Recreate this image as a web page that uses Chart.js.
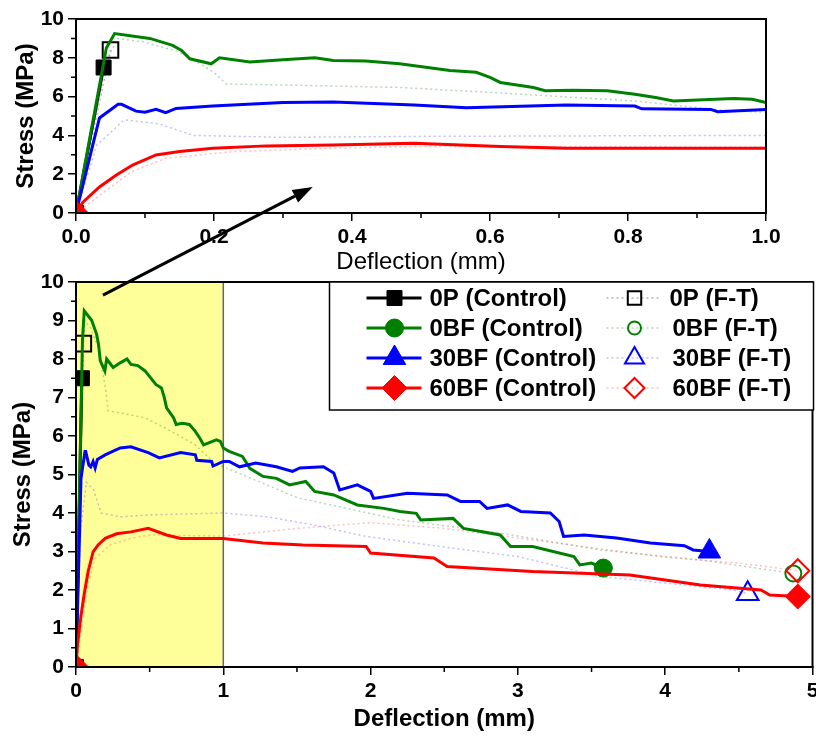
<!DOCTYPE html>
<html>
<head>
<meta charset="utf-8">
<script src="https://cdn.jsdelivr.net/npm/chart.js@4/dist/chart.umd.min.js"></script>
<style>
  body { margin: 0; background: #fff; overflow: hidden; }
  #wrap { position: relative; width: 816px; height: 736px; overflow: hidden; }
  #wrap canvas { position: absolute; left: 0; top: 0; }
</style>
</head>
<body>
<div id="wrap">
  <canvas id="mainChart" width="827" height="736"></canvas>
  <canvas id="insetChart" width="816" height="300"></canvas>
</div>
<script>
// ===== DATA (deflection mm, stress MPa) =====
const controlNames = ['0P (Control)', '0BF (Control)', '30BF (Control)', '60BF (Control)'];
const ftNames = ['0P (F-T)', '0BF (F-T)', '30BF (F-T)', '60BF (F-T)'];

const ctrl0P = [[0, 0], [0.04, 7.5]];
const ctrl0BF = [
    [0, 0], [0.044, 8.5], [0.056, 9.25], [0.107, 9.0], [0.14, 8.64], [0.153, 8.38], [0.165, 7.95],
    [0.196, 7.69], [0.208, 8.0], [0.252, 7.78], [0.30, 7.9], [0.346, 8.0], [0.373, 7.86], [0.42, 7.83],
    [0.469, 7.69], [0.542, 7.34], [0.58, 7.25], [0.60, 6.99], [0.615, 6.73], [0.663, 6.47], [0.68, 6.3],
    [0.72, 6.33], [0.77, 6.3], [0.81, 6.12], [0.84, 5.95], [0.866, 5.77], [0.953, 5.9], [0.98, 5.86],
    [1.0, 5.69], [1.04, 5.6], [1.13, 5.47], [1.18, 5.16], [1.27, 4.95], [1.36, 4.9], [1.45, 4.73],
    [1.56, 4.82], [1.62, 4.56], [1.75, 4.47], [1.91, 4.21], [2.09, 4.12], [2.2, 4.04], [2.31, 3.99],
    [2.34, 3.82], [2.56, 3.86], [2.63, 3.6], [2.88, 3.43], [2.95, 3.13], [3.1, 3.13], [3.38, 2.87],
    [3.42, 2.65], [3.5, 2.7], [3.58, 2.57]
];
const ctrl30BF = [
    [0, 0], [0.034, 4.9], [0.061, 5.6], [0.066, 5.6], [0.087, 5.25], [0.1, 5.2], [0.116, 5.34],
    [0.13, 5.17], [0.145, 5.39], [0.198, 5.51], [0.30, 5.69], [0.373, 5.72], [0.49, 5.57], [0.566, 5.43],
    [0.71, 5.57], [0.81, 5.51], [0.82, 5.37], [0.92, 5.34], [0.93, 5.22], [1.0, 5.34], [1.04, 5.34],
    [1.11, 5.2], [1.22, 5.3], [1.36, 5.2], [1.47, 5.08], [1.52, 5.17], [1.68, 5.2], [1.75, 5.04],
    [1.79, 4.6], [1.91, 4.73], [2.0, 4.56], [2.02, 4.38], [2.25, 4.51], [2.52, 4.47], [2.61, 4.3],
    [2.74, 4.3], [2.79, 4.12], [2.93, 4.21], [3.02, 4.04], [3.22, 4.0], [3.28, 3.78], [3.31, 3.39],
    [3.45, 3.43], [3.67, 3.35], [3.9, 3.22], [4.13, 3.15], [4.19, 3.04], [4.3, 3.0]
];
const ctrl60BF = [
    [0, 0], [0.01, 0.56], [0.034, 1.34], [0.058, 1.95], [0.082, 2.47], [0.116, 2.99], [0.15, 3.17],
    [0.198, 3.34], [0.276, 3.46], [0.373, 3.51], [0.49, 3.6], [0.615, 3.43], [0.711, 3.34], [1.0, 3.34],
    [1.27, 3.22], [1.54, 3.17], [1.97, 3.13], [2.0, 2.96], [2.43, 2.83], [2.52, 2.61], [3.1, 2.48],
    [3.76, 2.39], [4.24, 2.13], [4.65, 2.0], [4.71, 1.87], [4.9, 1.83]
];

const ft0P = [[0, 0], [0.05, 8.4]];
const ft0BF = [
    [0, 0], [0.04, 7.5], [0.06, 9.0], [0.1, 8.8], [0.15, 8.3], [0.2, 7.25], [0.218, 6.65], [0.3, 6.6],
    [0.47, 6.47], [0.61, 6.2], [0.81, 5.77], [0.95, 5.25], [1.0, 5.2], [1.5, 4.4], [2.2, 3.82],
    [2.88, 3.48], [3.56, 3.04], [4.24, 2.78], [4.87, 2.43]
];
const ft30BF = [
    [0, 0], [0.03, 3.5], [0.07, 4.8], [0.12, 4.6], [0.17, 4.0], [0.3, 3.9], [0.5, 3.95], [1.0, 4.0],
    [1.3, 3.9], [1.6, 3.7], [1.97, 3.39], [2.65, 3.04], [3.0, 2.87], [3.56, 2.35], [4.0, 2.18],
    [4.46, 2.0], [4.56, 1.9]
];
const ft60BF = [
    [0, 0], [0.08, 2.12], [0.13, 2.82], [0.23, 3.17], [0.37, 3.34], [0.5, 3.43], [1.0, 3.4], [1.5, 3.6],
    [2.0, 3.75], [2.5, 3.6], [3.0, 3.35], [3.5, 3.1], [4.0, 2.85], [4.5, 2.7], [4.9, 2.5]
];

const controlCurves = [ctrl0P, ctrl0BF, ctrl30BF, ctrl60BF];
const ftCurves = [ft0P, ft0BF, ft30BF, ft60BF];

// arrow from main chart (deflection, stress) to inset chart (deflection, stress)
const arrowFrom = [0.183, 9.66];
const arrowTo = [0.343, 1.34];

// ===== STYLE =====
const FONT = "'Liberation Sans', Arial, sans-serif";
const ink = ['#000000', '#008000', '#0000FF', '#FF0000'];
const faint = ['rgba(0,0,0,0.3)', 'rgba(0,128,0,0.3)', 'rgba(0,0,255,0.25)', 'rgba(255,0,0,0.25)'];
const shapes = ['rect', 'circle', 'triangle', 'rectRot'];
const sizeFilled = [10.6, 9, 13, 12.5];
const sizeOpen = [11, 8, 12.5, 11.5];

Chart.defaults.font.family = FONT;
Chart.defaults.color = '#000';

const toXY = (pts) => pts.map(p => ({ x: p[0], y: p[1] }));

const buildDatasets = () => {
    const ds = [];
    // index 0 is drawn on top, so red control goes first
    for (let i = 3; i >= 0; i--) {
        const n = controlCurves[i].length;
        ds.push({
            label: controlNames[i],
            data: toXY(controlCurves[i]),
            borderColor: ink[i],
            borderWidth: 3,
            pointStyle: shapes[i],
            pointRadius: (c) => (c.dataIndex === 0 || c.dataIndex === n - 1) ? sizeFilled[i] : 0,
            pointBackgroundColor: ink[i],
            pointBorderColor: ink[i],
            pointBorderWidth: 1,
            clip: 0
        });
    }
    for (let i = 3; i >= 0; i--) {
        const n = ftCurves[i].length;
        ds.push({
            label: ftNames[i],
            data: toXY(ftCurves[i]),
            borderColor: faint[i],
            borderWidth: 1.5,
            borderDash: [2, 3],
            pointStyle: shapes[i],
            pointRadius: (c) => c.dataIndex === n - 1 ? sizeOpen[i] : 0,
            pointBackgroundColor: 'rgba(0,0,0,0)',
            pointBorderColor: ink[i],
            pointBorderWidth: 2,
            clip: 0
        });
    }
    return ds;
};

const range = (from, to, step) => {
    const out = [];
    for (let v = from; v <= to + 1e-9; v += step) out.push(+v.toFixed(3));
    return out;
};

// minor ticks + closed frame
const framePlugin = (minorX, minorY) => ({
    id: 'frame',
    afterDraw(chart) {
        const { ctx, chartArea: a, scales } = chart;
        ctx.save();
        ctx.strokeStyle = '#000';
        ctx.lineWidth = 1.5;
        ctx.beginPath();
        minorX.forEach(v => {
            const px = scales.x.getPixelForValue(v);
            ctx.moveTo(px, a.bottom);
            ctx.lineTo(px, a.bottom + 5);
        });
        minorY.forEach(v => {
            const py = scales.y.getPixelForValue(v);
            ctx.moveTo(a.left, py);
            ctx.lineTo(a.left - 5, py);
        });
        ctx.stroke();
        ctx.lineWidth = 2;
        ctx.strokeRect(a.left, a.top, a.right - a.left, a.bottom - a.top);
        ctx.restore();
    }
});

// yellow zoom window on the main chart
const zoomBoxPlugin = {
    id: 'zoomBox',
    beforeDraw(chart) {
        const { ctx, chartArea: a, scales } = chart;
        const x0 = scales.x.getPixelForValue(0);
        const x1 = scales.x.getPixelForValue(1);
        ctx.save();
        ctx.fillStyle = '#FFFF99';
        ctx.fillRect(x0, a.top, x1 - x0, a.bottom - a.top);
        ctx.strokeStyle = '#666';
        ctx.lineWidth = 1.5;
        ctx.beginPath();
        ctx.moveTo(x1, a.top);
        ctx.lineTo(x1, a.bottom);
        ctx.stroke();
        ctx.restore();
    }
};

// two-column legend box in the top right
const legendPlugin = {
    id: 'boxLegend',
    afterDraw(chart) {
        const { ctx, chartArea: a } = chart;
        const w = 484, h = 128;
        const left = a.right - w + 1, top = a.top;
        ctx.save();
        ctx.fillStyle = '#fff';
        ctx.fillRect(left, top, w, h);
        ctx.strokeStyle = '#000';
        ctx.lineWidth = 1.5;
        ctx.strokeRect(left, top, w, h);
        ctx.font = 'bold 24px ' + FONT;
        ctx.textBaseline = 'middle';
        for (let i = 0; i < 4; i++) {
            const y = top + 16 + i * 30;
            // control
            ctx.strokeStyle = ink[i];
            ctx.lineWidth = 3;
            ctx.setLineDash([]);
            ctx.beginPath();
            ctx.moveTo(left + 37, y);
            ctx.lineTo(left + 92, y);
            ctx.stroke();
            ctx.fillStyle = ink[i];
            ctx.strokeStyle = ink[i];
            ctx.lineWidth = 1;
            Chart.helpers.drawPoint(ctx, { pointStyle: shapes[i], radius: sizeFilled[i], borderWidth: 1, rotation: 0 }, left + 65, y);
            ctx.fill();
            ctx.fillStyle = '#000';
            ctx.fillText(controlNames[i], left + 100, y + 1);
            // F-T
            ctx.strokeStyle = faint[i];
            ctx.lineWidth = 1.5;
            ctx.setLineDash([2, 3]);
            ctx.beginPath();
            ctx.moveTo(left + 277, y);
            ctx.lineTo(left + 329, y);
            ctx.stroke();
            ctx.setLineDash([]);
            ctx.strokeStyle = ink[i];
            ctx.fillStyle = 'rgba(0,0,0,0)';
            ctx.lineWidth = 2;
            Chart.helpers.drawPoint(ctx, { pointStyle: shapes[i], radius: sizeOpen[i] - 1.5, borderWidth: 2, rotation: 0 }, left + 305, y);
            ctx.fillStyle = '#000';
            ctx.fillText(ftNames[i], left + (i === 0 ? 340 : 343), y + 1);
        }
        ctx.restore();
    }
};

const axisCommon = (min, max, step, size, fmt) => ({
    type: 'linear',
    min: min,
    max: max,
    ticks: {
        stepSize: step,
        autoSkip: false,
        maxRotation: 0,
        font: { size: size, weight: 'bold' },
        color: '#000',
        padding: 4,
        callback: fmt
    },
    grid: { drawOnChartArea: false, drawTicks: true, tickLength: 8, color: '#000', lineWidth: 1.5 },
    border: { color: '#000', width: 2 }
});

// ===== MAIN CHART =====
const mainX = axisCommon(0, 5, 1, 21, (v) => v);
mainX.title = { display: true, text: 'Deflection (mm)', font: { size: 24, weight: 'bold' }, color: '#000', padding: { top: 0, bottom: 2 } };
mainX.afterFit = (s) => { s.height = 69; };
const mainY = axisCommon(0, 10, 1, 21, (v) => v);
mainY.title = { display: true, text: 'Stress (MPa)', font: { size: 24, weight: 'bold' }, color: '#000', padding: { top: 9, bottom: 0 } };
mainY.afterFit = (s) => { s.width = 76; };

const mainChart = new Chart(document.getElementById('mainChart'), {
    type: 'line',
    data: { datasets: buildDatasets() },
    options: {
        responsive: false,
        animation: false,
        events: [],
        layout: { padding: { top: 282, right: 0, left: 0, bottom: 0 } },
        plugins: { legend: { display: false }, tooltip: { enabled: false } },
        scales: { x: mainX, y: mainY }
    },
    plugins: [zoomBoxPlugin, framePlugin(range(0.5, 4.5, 1), range(0.5, 9.5, 1)), legendPlugin]
});

// ===== INSET CHART =====
const arrowPlugin = {
    id: 'arrow',
    afterDraw(chart) {
        const { ctx, scales } = chart;
        const x0 = mainChart.scales.x.getPixelForValue(arrowFrom[0]);
        const y0 = mainChart.scales.y.getPixelForValue(arrowFrom[1]);
        const x1 = scales.x.getPixelForValue(arrowTo[0]);
        const y1 = scales.y.getPixelForValue(arrowTo[1]);
        const ang = Math.atan2(y1 - y0, x1 - x0);
        const head = 20, half = 7;
        const bx = x1 - head * Math.cos(ang), by = y1 - head * Math.sin(ang);
        ctx.save();
        ctx.strokeStyle = '#000';
        ctx.fillStyle = '#000';
        ctx.lineWidth = 3;
        ctx.beginPath();
        ctx.moveTo(x0, y0);
        ctx.lineTo(bx, by);
        ctx.stroke();
        ctx.beginPath();
        ctx.moveTo(x1, y1);
        ctx.lineTo(bx + half * Math.sin(ang), by - half * Math.cos(ang));
        ctx.lineTo(bx - half * Math.sin(ang), by + half * Math.cos(ang));
        ctx.closePath();
        ctx.fill();
        ctx.restore();
    }
};

const insetX = axisCommon(0, 1, 0.2, 21, (v) => v.toFixed(1));
insetX.title = { display: true, text: 'Deflection (mm)', font: { size: 24, weight: 'normal' }, color: '#000', padding: { top: 0, bottom: 0 } };
insetX.afterFit = (s) => { s.height = 64; };
const insetY = axisCommon(0, 10, 2, 21, (v) => v);
insetY.title = { display: true, text: 'Stress (MPa)', font: { size: 24, weight: 'bold' }, color: '#000', padding: { top: 12, bottom: 0 } };
insetY.afterFit = (s) => { s.width = 76; };

const insetChart = new Chart(document.getElementById('insetChart'), {
    type: 'line',
    data: { datasets: buildDatasets() },
    options: {
        responsive: false,
        animation: false,
        events: [],
        layout: { padding: { top: 19, right: 50, left: 0, bottom: 23 } },
        plugins: { legend: { display: false }, tooltip: { enabled: false } },
        scales: { x: insetX, y: insetY }
    },
    plugins: [framePlugin(range(0.1, 0.9, 0.2), range(1, 9, 2)), arrowPlugin]
});
</script>
</body>
</html>
